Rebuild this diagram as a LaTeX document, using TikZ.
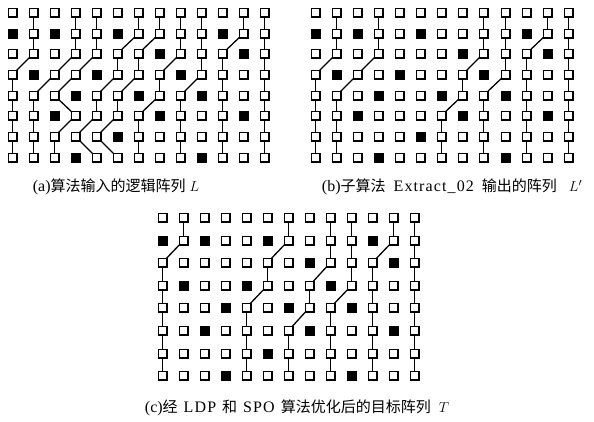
\documentclass[tikz,border=0pt]{standalone}
\usepackage{fontspec}
\setmainfont{Liberation Serif}
\newfontfamily\cjk{Noto Sans CJK SC}
\newfontfamily\latw{Liberation Serif}[LetterSpace=7]
\newcommand\lw[1]{{\fontsize{16}{18}\latw #1}}
\newcommand\lp[1]{{\fontsize{16}{18}\selectfont #1}}
\tikzset{
  ecell/.style={draw=black, line width=1.7pt, fill=white, minimum size=8.3pt, inner sep=0pt, outer sep=0pt},
  fcell/.style={ecell, fill=black},
  link/.style={draw=black, line width=1.3pt},
  caption/.style={font=\fontsize{15}{17}\selectfont, inner sep=0pt}
}
\newcommand\markfilled[3]{\expandafter\gdef\csname filled#1-#2-#3\endcsname{}}
% grid: name, x0, dx, y0, dy
\newcommand\drawgrid[5]{%
  \foreach \r in {1,...,8}{%
    \foreach \c in {1,...,13}{%
      \ifcsname filled#1-\r-\c\endcsname\def\sty{fcell}\else\def\sty{ecell}\fi
      \pgfmathsetmacro\px{round(#2+(\c-1)*#3)+0.5}%
      \pgfmathsetmacro\py{round(#4+(\r-1)*#5)+0.5}%
      \node[\sty] (#1-\r-\c) at (\px,\py) {};
    }%
  }%
}
\newcommand\pth[2]{%
  \gdef\prevnode{}%
  \foreach \cc [count=\rr] in {#2}{%
    \ifx\prevnode\empty\else\draw[link] (\prevnode) -- (#1-\rr-\cc);\fi
    \xdef\prevnode{#1-\rr-\cc}%
  }%
}
\newcommand\filledset[1]{%
  \foreach \r/\c in {2/1,2/3,2/6,2/11,3/8,3/12,4/2,4/5,4/9,5/4,5/7,5/10,6/3,6/8,6/12,7/6,8/4,8/10}{\markfilled{#1}{\r}{\c}}%
}
\begin{document}
\begin{tikzpicture}[x=1pt,y=-1pt]
\useasboundingbox (0,0) rectangle (594,421);
\filledset{a}\filledset{b}\filledset{c}
% grid a
\drawgrid{a}{12}{20.97}{12}{20.65}
\pth{a}{2,2,2,1,1,1,1,1}
\pth{a}{4,4,4,3,2,2,2,2}
\pth{a}{5,5,5,4,3,4,3,3}
\pth{a}{7,7,6,6,5,5,4,5}
\pth{a}{8,8,7,7,6,6,5,6}
\pth{a}{9,9,9,8,8,7,7,7}
\pth{a}{10,10,10,10,9,9,9,9}
\pth{a}{12,12,11,11,11,11,11,11}
\pth{a}{13,13,13,13,13,13,13,13}
% grid b
\drawgrid{b}{315}{21.06}{12}{20.65}
\pth{b}{2,2,2,1,1,1,1,1}
\pth{b}{4,4,4,3,2,2,2,2}
\pth{b}{9,9,9,8,8,7,7,7}
\pth{b}{10,10,10,10,9,9,9,9}
\pth{b}{12,12,11,11,11,11,11,11}
\pth{b}{13,13,13,13,13,13,13,13}
% grid c
\drawgrid{c}{162}{20.97}{217}{22.6}
\pth{c}{2,2,1,1,1,1,1,1}
\pth{c}{7,7,6,6,5,5,5,5}
\pth{c}{9,9,9,8,8,7,7,7}
\pth{c}{10,10,10,10,9,9,9,9}
\pth{c}{12,12,11,11,11,11,11,11}
\pth{c}{13,13,13,13,13,13,13,13}
% captions
\node[caption] (capa) at (116,187) {\lp{(a)}{\cjk 算法输入的逻辑阵列}\hspace{4pt}$L$};
\node[caption] (capb) at (452,187) {\lp{(b)}{\cjk 子算法}\hspace{8pt}\lw{Extract\_02}\hspace{8pt}{\cjk 输出的阵列}\hspace{12pt}$L'$};
\node[caption] (capc) at (297,408) {\lp{(c)}{\cjk 经}\hspace{6pt}\lw{LDP}\hspace{6pt}{\cjk 和}\hspace{6pt}\lw{SPO}\hspace{6pt}{\cjk 算法优化后的目标阵列}\hspace{8pt}$T$};
\end{tikzpicture}
\end{document}
